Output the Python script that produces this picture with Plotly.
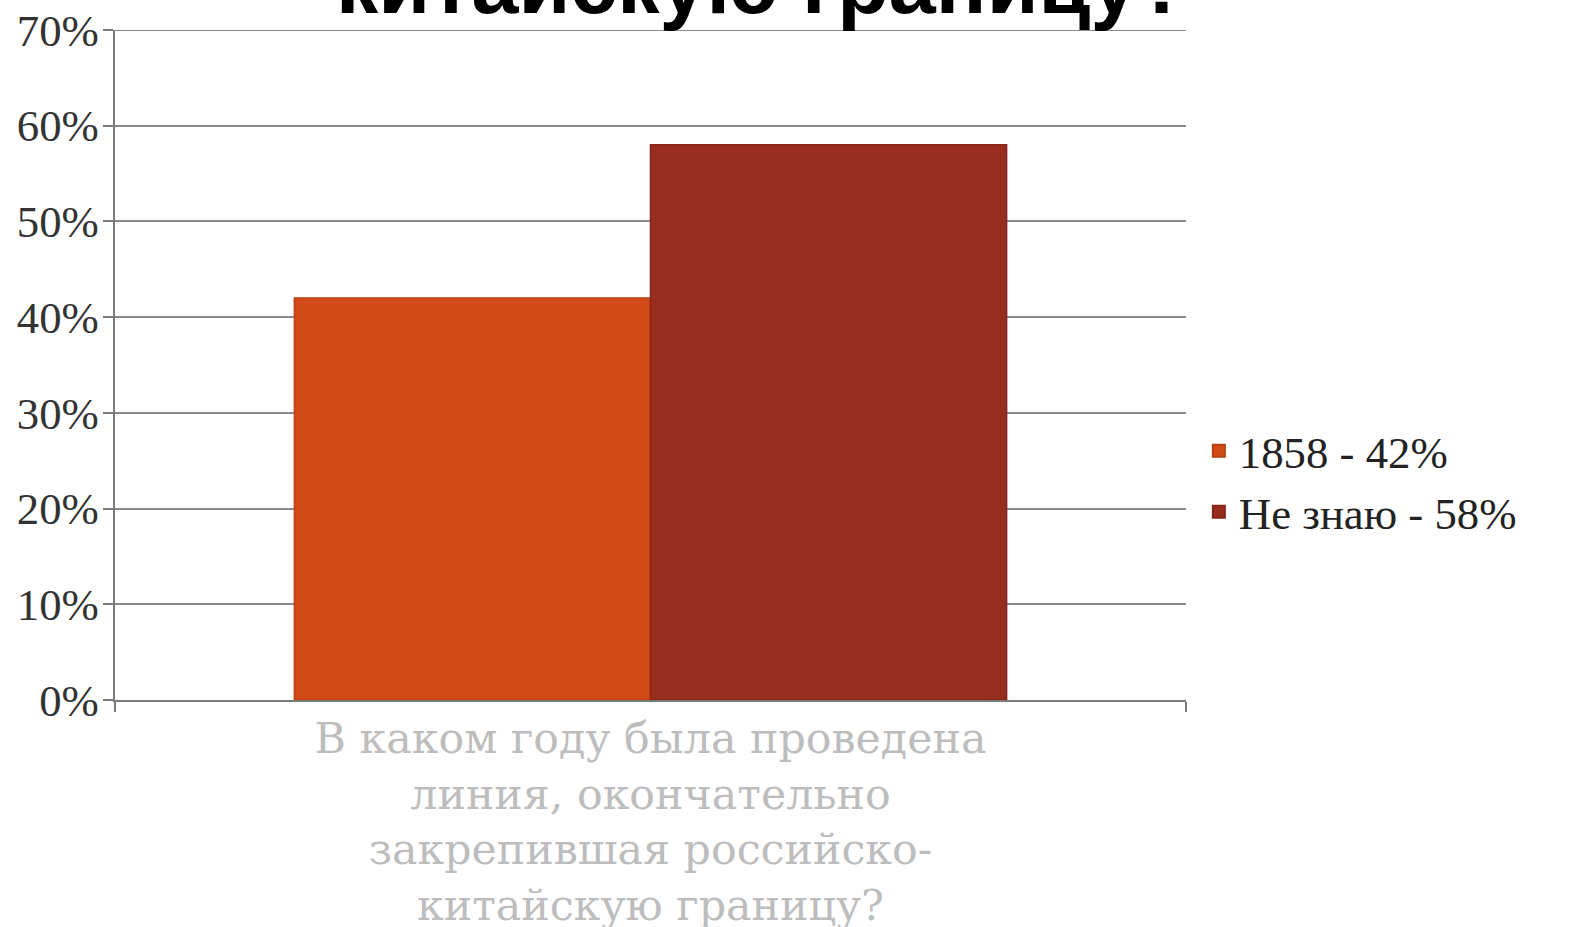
import plotly.graph_objects as go

category = ["В каком году была проведена<br>линия, окончательно<br>закрепившая российско-<br>китайскую границу?"]
series_names = ["1858 - 42%", "Не знаю - 58%"]
series_values = [[42], [58]]
series_colors = ["#D14A17", "#982D1F"]
edge_colors = ["#B8420F", "#862519"]
y_ticks = [0, 10, 20, 30, 40, 50, 60, 70]
y_tick_text = [f"{v}%" for v in y_ticks]
title_text = "китайскую границу?"

# the capture renders pages slightly reduced; compensate
S = 1 / 0.983

serif = "Liberation Serif, Times New Roman, serif"

fig = go.Figure()
for name, vals, col, ec in zip(series_names, series_values, series_colors, edge_colors):
    fig.add_trace(go.Bar(
        x=category, y=vals, name=name,
        marker=dict(color=col, line=dict(color=ec, width=1.5 * S)),
    ))

fig.update_layout(
    width=round(1595 * S), height=round(927 * S),
    margin=dict(l=113 * S, r=430 * S, t=29 * S, b=239 * S, autoexpand=False),
    paper_bgcolor="white", plot_bgcolor="white",
    barmode="group", bargap=0.335, bargroupgap=0,
    showlegend=True,
    legend=dict(
        x=1.012, y=0.326, xanchor="left", yanchor="middle",
        font=dict(family=serif, size=44 * S, color="#222222"),
        itemsizing="constant", tracegroupgap=0,
        bgcolor="rgba(0,0,0,0)",
    ),
    xaxis=dict(
        showline=True, linecolor="#7a7a7a", linewidth=2 * S,
        ticks="outside", tickson="boundaries", ticklen=10 * S,
        tickcolor="#7a7a7a", tickwidth=2 * S,
        tickfont=dict(family="DejaVu Serif, serif", size=42 * S, color="#bdbdbd"),
        showgrid=False,
    ),
    yaxis=dict(
        range=[0, 70], tickvals=y_ticks, ticktext=y_tick_text,
        showline=True, linecolor="#7a7a7a", linewidth=2 * S,
        ticks="outside", ticklen=10 * S, tickcolor="#7a7a7a", tickwidth=2 * S,
        ticklabelstandoff=-5,
        showgrid=True, gridcolor="#8a8a8a", gridwidth=2 * S,
        tickfont=dict(family=serif, size=44 * S, color="#333333"),
        zeroline=False,
    ),
    shapes=[dict(
        type="line", xref="paper", yref="y", x0=0, x1=1, y0=70, y1=70,
        line=dict(color="#8a8a8a", width=2 * S), layer="below",
    )],
    annotations=[dict(
        text="<b>" + title_text + "</b>",
        xref="paper", yref="paper",
        x=(749 - 113) / 1052, y=1 + (29 + 16) / 659,
        xanchor="center", yanchor="middle",
        showarrow=False,
        font=dict(family="Liberation Sans, Arial, sans-serif", size=83 * S, color="black"),
    )],
)

fig.write_html(
    "out.html",
    config={"displayModeBar": False},
    post_script="document.body.style.margin='0px';document.body.style.overflow='hidden';",
)
